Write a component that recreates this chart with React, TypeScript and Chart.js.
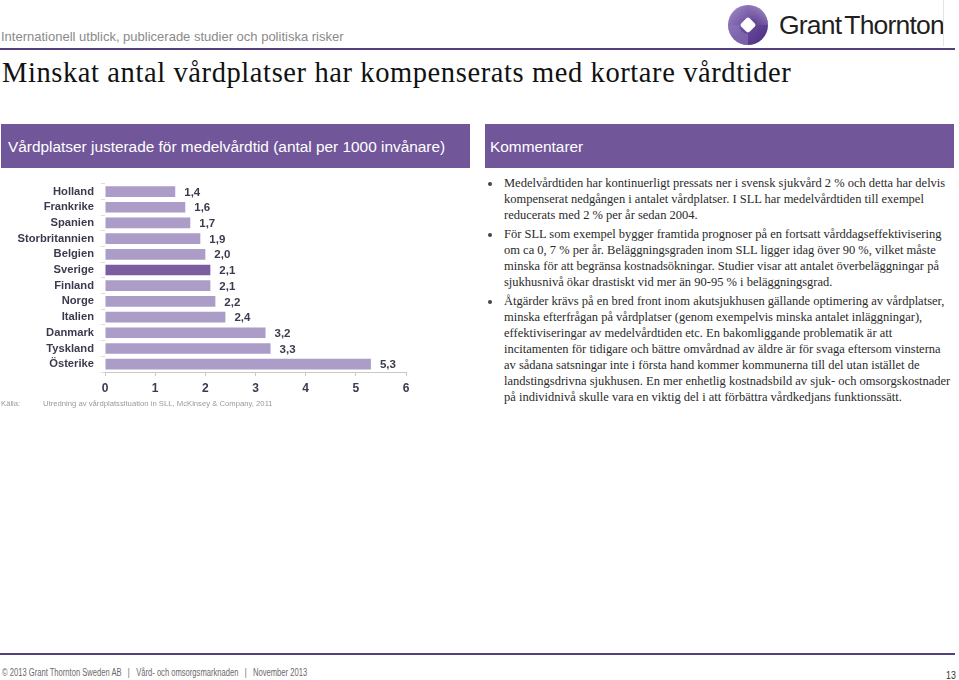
import React, { useEffect, useRef } from 'react';
import { Chart, registerables } from 'chart.js';

Chart.register(...registerables);

// ---- Data ----
const categories = [
  'Holland', 'Frankrike', 'Spanien', 'Storbritannien', 'Belgien', 'Sverige',
  'Finland', 'Norge', 'Italien', 'Danmark', 'Tyskland', 'Österike',
];
const values = [1.4, 1.6, 1.7, 1.9, 2.0, 2.1, 2.1, 2.2, 2.4, 3.2, 3.3, 5.3];
const highlighted = ['Sverige'];
const xMin = 0;
const xMax = 6;
const xStep = 1;

const subtitle = 'Internationell utblick, publicerade studier och politiska risker';
const title = 'Minskat antal vårdplatser har kompenserats med kortare vårdtider';
const chartHeader = 'Vårdplatser justerade för medelvårdtid (antal per 1000 invånare)';
const commentHeader = 'Kommentarer';
const sourceLabel = 'Källa:';
const sourceText = 'Utredning av vårdplatssituation in SLL, McKinsey & Company, 2011';
const footerText = '© 2013 Grant Thornton Sweden AB   |   Vård- och omsorgsmarknaden   |   November 2013';
const pageNumber = '13';

const comments: string[][] = [
  [
    'Medelvårdtiden har kontinuerligt pressats ner i svensk sjukvård 2 % och detta har delvis',
    'kompenserat nedgången i antalet vårdplatser. I SLL har medelvårdtiden till exempel',
    'reducerats med 2 % per år sedan 2004.',
  ],
  [
    'För SLL som exempel bygger framtida prognoser på en fortsatt vårddagseffektivisering',
    'om ca 0, 7 % per år. Beläggningsgraden inom SLL ligger idag över 90 %, vilket måste',
    'minska för att begränsa kostnadsökningar. Studier visar att antalet överbeläggningar på',
    'sjukhusnivå ökar drastiskt vid mer än 90-95 % i beläggningsgrad.',
  ],
  [
    'Åtgärder krävs på en bred front inom akutsjukhusen gällande optimering av vårdplatser,',
    'minska efterfrågan på vårdplatser (genom exempelvis minska antalet inläggningar),',
    'effektiviseringar av medelvårdtiden etc. En bakomliggande problematik är att',
    'incitamenten för tidigare och bättre omvårdnad av äldre är för svaga eftersom vinsterna',
    'av sådana satsningar inte i första hand kommer kommunerna till del utan istället de',
    'landstingsdrivna sjukhusen. En mer enhetlig kostnadsbild av sjuk- och omsorgskostnader',
    'på individnivå skulle vara en viktig del i att förbättra vårdkedjans funktionssätt.',
  ],
];

// ---- Styles ----
const PURPLE = '#71579a';
const LINE_PURPLE = '#55407f';
const BAR = '#ab9dc8';
const BAR_HL = '#7c5ea0';
const LABEL = '#3b3a4e';
const AXIS = '#c9c9c9';
const SANS = '"Liberation Sans", Arial, sans-serif';
const SERIF = '"Liberation Serif", "Times New Roman", serif';

const fmt = (v: number) => v.toFixed(1).replace('.', ',');

const valueLabels = {
  id: 'valueLabels',
  afterDatasetsDraw(chart: any) {
    const { ctx } = chart;
    const meta = chart.getDatasetMeta(0);
    const data = chart.data.datasets[0].data as number[];
    ctx.save();
    ctx.font = `bold 11.5px ${SANS}`;
    ctx.fillStyle = LABEL;
    ctx.textAlign = 'left';
    ctx.textBaseline = 'middle';
    meta.data.forEach((el: any, i: number) => {
      ctx.fillText(fmt(data[i]), el.x + 9, el.y + 1);
    });
    ctx.restore();
  },
};

function BarChart() {
  const ref = useRef<HTMLCanvasElement>(null);
  useEffect(() => {
    if (!ref.current) return;
    const chart = new Chart(ref.current, {
      type: 'bar',
      data: {
        labels: categories,
        datasets: [
          {
            data: values,
            backgroundColor: categories.map((c) => (highlighted.includes(c) ? BAR_HL : BAR)),
            borderWidth: 0,
            barPercentage: 0.68,
            categoryPercentage: 1,
          },
        ],
      },
      options: {
        indexAxis: 'y',
        responsive: false,
        animation: false,
        layout: { padding: { top: 8, right: 14, left: 0, bottom: 0 } },
        plugins: { legend: { display: false }, tooltip: { enabled: false } },
        scales: {
          x: {
            min: xMin,
            max: xMax,
            afterFit: (s: any) => { s.height = 28; },
            ticks: {
              stepSize: xStep,
              padding: 5,
              color: LABEL,
              font: { family: SANS, size: 12, weight: 'bold' },
            },
            grid: { display: true, drawOnChartArea: false, tickLength: 4, color: AXIS },
            border: { display: true, color: AXIS },
          },
          y: {
            afterFit: (s: any) => { s.width = 105; },
            ticks: {
              autoSkip: false,
              padding: 7,
              color: LABEL,
              font: { family: SANS, size: 11.2, weight: 'bold' },
            },
            grid: { display: true, drawOnChartArea: false, tickLength: 4, color: '#dcdcdc', offset: true },
            border: { display: false },
          },
        },
      },
      plugins: [valueLabels],
    });
    return () => chart.destroy();
  }, []);
  return <canvas ref={ref} width={420} height={230} style={{ display: 'block', width: 420, height: 230 }} />;
}

function Logo() {
  return (
    <div style={{ position: 'absolute', left: 727, top: 4, width: 230, height: 44 }}>
      <svg width={44} height={44} style={{ position: 'absolute', left: 0, top: 0 }}>
        <defs>
          <linearGradient id="gtg" x1="0" y1="0" x2="1" y2="1">
            <stop offset="0" stopColor="#a694cc" />
            <stop offset="0.5" stopColor="#6a4c9c" />
            <stop offset="1" stopColor="#4a2c80" />
          </linearGradient>
          <linearGradient id="gtg2" x1="1" y1="0" x2="0" y2="1">
            <stop offset="0" stopColor="#c9bde0" stopOpacity="0.9" />
            <stop offset="1" stopColor="#5b3d8f" stopOpacity="0" />
          </linearGradient>
        </defs>
        <circle cx={21} cy={21} r={20} fill="url(#gtg)" />
        <path d="M21 1 A20 20 0 0 1 41 21 L30 21 A9 9 0 0 0 21 12 Z" fill="url(#gtg2)" />
        <path d="M1 21 A20 20 0 0 0 21 41 L21 30 A9 9 0 0 1 12 21 Z" fill="#8d77ba" opacity="0.6" />
        <rect x={15} y={15} width={12} height={12} rx={3} fill="#fff" transform="rotate(45 21 21)" />
      </svg>
      <div
        style={{
          position: 'absolute', left: 52, top: 6, fontFamily: SANS, fontSize: 26.5,
          lineHeight: '30px', color: '#231f20', letterSpacing: -0.8, whiteSpace: 'nowrap',
        }}
      >
        Grant<span style={{ marginLeft: 3 }}>Thornton</span>
      </div>
    </div>
  );
}

export default function App() {
  useEffect(() => {
    document.body.style.margin = '0';
  }, []);

  const lineH = 16;
  const paraTops = [175, 226, 293];

  return (
    <div
      style={{
        position: 'absolute', left: 0, top: 0, width: 959, height: 680,
        background: '#fff', overflow: 'hidden', fontFamily: SANS,
      }}
    >
      {/* subtitle */}
      <div style={{ position: 'absolute', left: 1, top: 29, fontSize: 13, lineHeight: '15px', color: '#8a8a8a', whiteSpace: 'nowrap' }}>
        {subtitle}
      </div>
      <Logo />
      <div style={{ position: 'absolute', left: 943, top: 0, width: 1, height: 46, background: '#e4e4e4' }} />
      <div style={{ position: 'absolute', left: 0, top: 48, width: 955, height: 2, background: LINE_PURPLE }} />

      {/* title */}
      <div style={{ position: 'absolute', left: 2, top: 59, fontFamily: SERIF, fontSize: 28.5, letterSpacing: 0.6, lineHeight: 1, color: '#111', whiteSpace: 'nowrap' }}>
        {title}
      </div>

      {/* header boxes */}
      <div style={{ position: 'absolute', left: 1, top: 124, width: 469, height: 44, background: PURPLE }}>
        <div style={{ position: 'absolute', left: 7, top: 14, fontSize: 15.4, lineHeight: '17px', color: '#fff', whiteSpace: 'nowrap' }}>
          {chartHeader}
        </div>
      </div>
      <div style={{ position: 'absolute', left: 485, top: 124, width: 469, height: 44, background: PURPLE }}>
        <div style={{ position: 'absolute', left: 5, top: 14, fontSize: 15.4, lineHeight: '17px', color: '#fff', whiteSpace: 'nowrap' }}>
          {commentHeader}
        </div>
      </div>

      {/* chart */}
      <div style={{ position: 'absolute', left: 0, top: 170, width: 420, height: 230 }}>
        <BarChart />
      </div>

      {/* source */}
      <div style={{ position: 'absolute', left: 1, top: 399, fontSize: 7.7, lineHeight: '10px', color: '#9a9a9a', whiteSpace: 'nowrap' }}>
        {sourceLabel}
      </div>
      <div style={{ position: 'absolute', left: 43, top: 399, fontSize: 7.7, lineHeight: '10px', color: '#9a9a9a', whiteSpace: 'nowrap' }}>
        {sourceText}
      </div>

      {/* comments */}
      {comments.map((para, pi) => (
        <div key={pi} style={{ position: 'absolute', left: 484, top: paraTops[pi], width: 470 }}>
          <div style={{ position: 'absolute', left: 4, top: 7, width: 4, height: 4, borderRadius: 2, background: '#444' }} />
          {para.map((line, li) => (
            <div
              key={li}
              style={{
                position: 'absolute', left: 20, top: li * lineH, fontFamily: SERIF, fontSize: 12.5,
                lineHeight: `${lineH}px`, color: '#2a2a2a', whiteSpace: 'nowrap',
              }}
            >
              {line}
            </div>
          ))}
        </div>
      ))}

      {/* footer */}
      <div style={{ position: 'absolute', left: 0, top: 653, width: 955, height: 2, background: LINE_PURPLE }} />
      <div
        style={{
          position: 'absolute', left: 2, top: 667, fontSize: 10, lineHeight: '12px', color: '#6a6a6a',
          whiteSpace: 'pre', transform: 'scaleX(0.76)', transformOrigin: '0 0',
        }}
      >
        {footerText}
      </div>
      <div
        style={{
          position: 'absolute', left: 946, top: 669, fontSize: 11, lineHeight: '12px', color: '#333',
          whiteSpace: 'nowrap', transform: 'scaleX(0.8)', transformOrigin: '0 0',
        }}
      >
        {pageNumber}
      </div>
    </div>
  );
}
